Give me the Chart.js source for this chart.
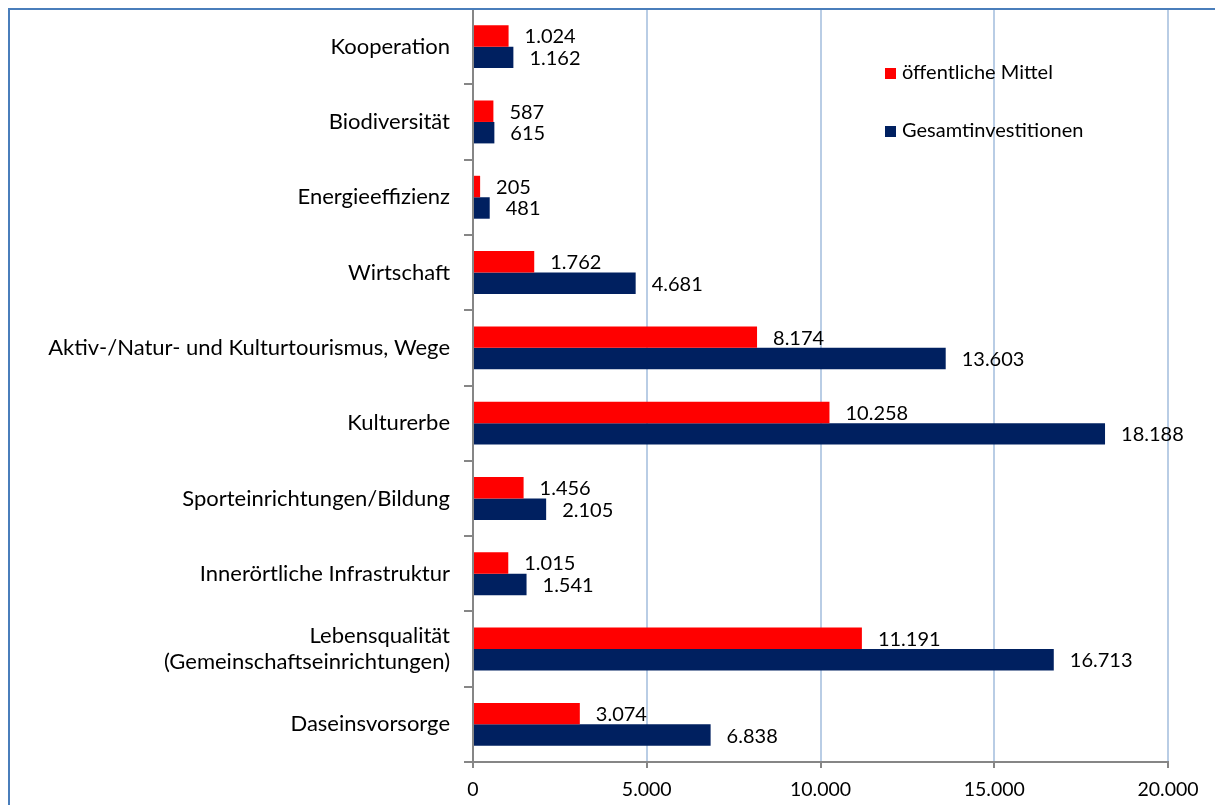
<!DOCTYPE html>
<html><head><meta charset="utf-8">
<script src="https://cdn.jsdelivr.net/npm/chart.js@4.4.1/dist/chart.umd.min.js"></script>
<style>
html,body{margin:0;padding:0;background:#fff;}
#wrap{position:relative;width:1215px;height:805px;}
#frame{position:absolute;left:8px;top:8px;right:0;bottom:0;border-left:2px solid #4a7ebb;border-top:2px solid #4a7ebb;pointer-events:none;}
</style></head>
<body>
<div id="wrap"><canvas id="c" width="1215" height="805"></canvas><div id="frame"></div></div>
<script>
const categories = ["Kooperation","Biodiversität","Energieeffizienz","Wirtschaft","Aktiv-/Natur- und Kulturtourismus, Wege","Kulturerbe","Sporteinrichtungen/Bildung","Innerörtliche Infrastruktur",["Lebensqualität","(Gemeinschaftseinrichtungen)"],"Daseinsvorsorge"];
const oeffentlicheMittel = [1024,587,205,1762,8174,10258,1456,1015,11191,3074];
const gesamtinvestitionen = [1162,615,481,4681,13603,18188,2105,1541,16713,6838];
const seriesNames = ["öffentliche Mittel","Gesamtinvestitionen"];
const xTicks = [0,5000,10000,15000,20000];

const FONT = "Lato, 'Open Sans', sans-serif";
const fmt = v => v.toLocaleString('de-DE');

const labelPlugin = {
  id:'vals',
  afterDatasetsDraw(chart){
    const ctx = chart.ctx;
    ctx.save();
    ctx.font = "20px " + FONT;
    ctx.fillStyle = "#000";
    ctx.textBaseline = "middle";
    ctx.textAlign = "left";
    chart.data.datasets.forEach((ds,i)=>{
      chart.getDatasetMeta(i).data.forEach((bar,j)=>{
        ctx.fillText(fmt(ds.data[j]), bar.x + 16, bar.y + 1);
      });
    });
    ctx.restore();
  }
};
const legendPlugin = {
  id:'lg',
  afterDraw(chart){
    const ctx = chart.ctx;
    const a = chart.chartArea;
    ctx.save();
    ctx.font = "20px " + FONT;
    ctx.textBaseline = "middle";
    chart.data.datasets.forEach((ds,i)=>{
      const x = a.left + 412, y = a.top + 64 + i*58;
      ctx.fillStyle = ds.backgroundColor;
      ctx.fillRect(x, y-5, 11, 11);
      ctx.fillStyle = "#000";
      ctx.fillText(ds.label, x+17, y);
    });
    ctx.restore();
  }
};

new Chart(document.getElementById('c'), {
  type:'bar',
  data:{
    labels: categories,
    datasets:[
      {label: seriesNames[0], data: oeffentlicheMittel, backgroundColor:'#ff0000', barPercentage:1, categoryPercentage:0.57},
      {label: seriesNames[1], data: gesamtinvestitionen, backgroundColor:'#002060', barPercentage:1, categoryPercentage:0.57}
    ]
  },
  options:{
    indexAxis:'y',
    responsive:false,
    animation:false,
    layout:{padding:{left:9,top:9,right:47,bottom:0}},
    plugins:{legend:{display:false},tooltip:{enabled:false}},
    scales:{
      x:{
        min:0,max:20000,
        afterBuildTicks(s){ s.ticks = xTicks.map(v=>({value:v})); },
        afterFit(s){ s.height = 43; s.paddingLeft = 0; s.paddingRight = 0; },
        border:{color:'#868686',width:2},
        grid:{color:'#b9cde5',lineWidth:2,tickColor:'#868686',tickLength:6,drawTicks:true},
        ticks:{font:{family:FONT,size:19.5},color:'#000',padding:10,callback:v=>fmt(v),maxRotation:0}
      },
      y:{
        afterFit(s){ s.width = 464; s.paddingTop = 0; s.paddingBottom = 0; },
        border:{color:'#868686',width:2},
        grid:{offset:true,drawOnChartArea:false,tickColor:'#868686',tickLength:9,lineWidth:2},
        ticks:{font:{family:FONT,size:22},color:'#000',padding:14}
      }
    }
  },
  plugins:[labelPlugin, legendPlugin]
});
</script>
</body></html>
